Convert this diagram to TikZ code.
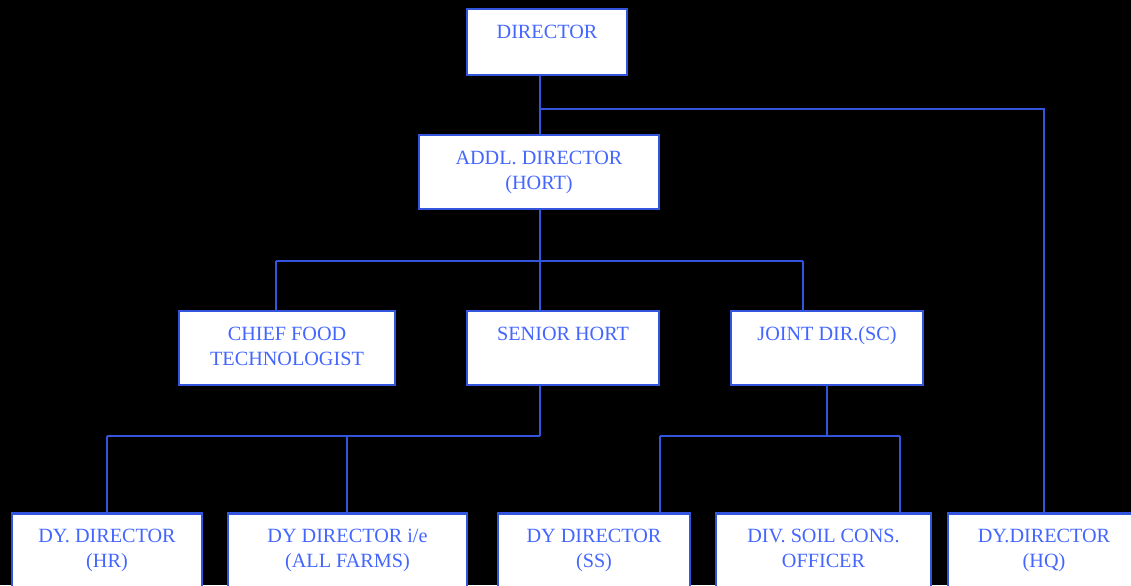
\documentclass[tikz,border=0pt]{standalone}
\usepackage{fontspec}
\setmainfont{Liberation Serif}
\definecolor{lineblue}{HTML}{3355DD}
\definecolor{textblue}{HTML}{4466FF}
\tikzset{
  box/.style={draw=lineblue, line width=1.2pt, fill=white, text=textblue,
    font=\fontsize{11.5}{14.2}\selectfont, align=center, inner xsep=0pt, inner ysep=0pt},
  one/.style={text height=0.58cm},
  two/.style={text height=1.08cm},
  conn/.style={draw=lineblue, line width=1.1pt}
}
\begin{document}
\begin{tikzpicture}[x=0.02cm,y=-0.02cm]
\fill[black] (0,0) rectangle (1131,585);
\useasboundingbox (0,0) rectangle (1131,585);
% boxes
\node[box, one, minimum width=3.2cm, text depth=0.74cm] (dir) at (547,42) {DIRECTOR};
\node[box, two, minimum width=4.8cm, text depth=0.40cm] (addl) at (539,172) {ADDL. DIRECTOR\\(HORT)};
\node[box, two, minimum width=4.32cm, text depth=0.40cm] (chief) at (287,348) {CHIEF FOOD\\TECHNOLOGIST};
\node[box, one, minimum width=3.84cm, text depth=0.90cm] (senior) at (563,348) {SENIOR HORT};
\node[box, one, minimum width=3.84cm, text depth=0.90cm] (joint) at (827,348) {JOINT DIR.(SC)};
\node[box, two, minimum width=3.8cm, text depth=0.66cm] (hr) at (107,557) {DY. DIRECTOR\\(HR)};
\node[box, two, minimum width=4.78cm, text depth=0.66cm] (ie) at (347.5,557) {DY DIRECTOR i/e\\(ALL FARMS)};
\node[box, two, minimum width=3.84cm, text depth=0.66cm] (ss) at (594,557) {DY DIRECTOR\\(SS)};
\node[box, two, minimum width=4.3cm, text depth=0.66cm] (div) at (823.5,557) {DIV. SOIL CONS.\\OFFICER};
\node[box, two, minimum width=3.84cm, text depth=0.66cm] (hq) at (1044,557) {DY.DIRECTOR\\(HQ)};
% junction coordinates
\coordinate (j0) at (540,109);
\coordinate (j0r) at (1044,109);
\coordinate (j1) at (540,261);
\coordinate (j1l) at (276,261);
\coordinate (j1r) at (803,261);
\coordinate (j2) at (540,436);
\coordinate (j2l) at (107,436);
\coordinate (j2m) at (347,436);
\coordinate (j3) at (827,436);
\coordinate (j3l) at (660,436);
\coordinate (j3r) at (900,436);
% connectors
\draw[conn] (dir.south -| j0) -- (addl.north -| j0);
\draw[conn] (j0) -- (j0r) -- (hq.north -| j0r);
\draw[conn] (addl.south -| j1) -- (j1);
\draw[conn] (j1l) -- (j1r);
\draw[conn] (j1l) -- (chief.north -| j1l);
\draw[conn] (j1) -- (senior.north -| j1);
\draw[conn] (j1r) -- (joint.north -| j1r);
\draw[conn] (senior.south -| j2) -- (j2);
\draw[conn] (j2l) -- (j2);
\draw[conn] (j2l) -- (hr.north -| j2l);
\draw[conn] (j2m) -- (ie.north -| j2m);
\draw[conn] (joint.south -| j3) -- (j3);
\draw[conn] (j3l) -- (j3r);
\draw[conn] (j3l) -- (ss.north -| j3l);
\draw[conn] (j3r) -- (div.north -| j3r);
\end{tikzpicture}
\end{document}
